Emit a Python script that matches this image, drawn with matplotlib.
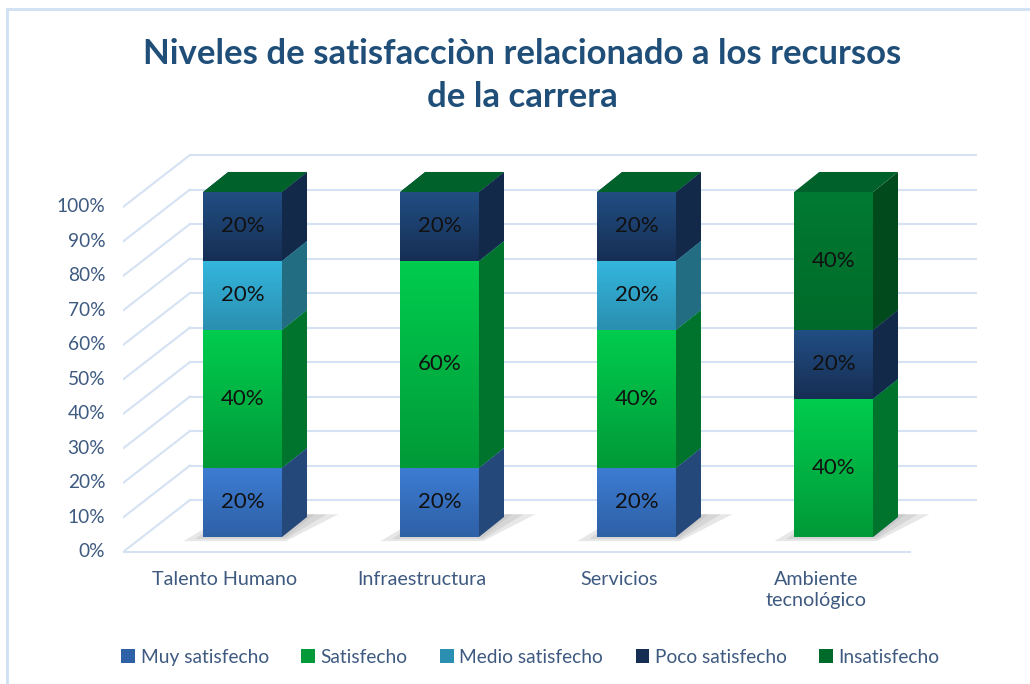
import numpy as np
import matplotlib.pyplot as plt
from matplotlib.patches import Polygon, Rectangle, Patch
from matplotlib.colors import LinearSegmentedColormap
from matplotlib.lines import Line2D

plt.rcParams['font.family'] = ['Lato', 'DejaVu Sans']

# data
categories = ["Talento Humano", "Infraestructura", "Servicios", "Ambiente\ntecnológico"]
series_names = ["Muy satisfecho", "Satisfecho", "Medio satisfecho", "Poco satisfecho", "Insatisfecho"]
muy_satisfecho = [20, 20, 20, 0]
satisfecho = [40, 60, 40, 40]
medio_satisfecho = [20, 0, 20, 0]
poco_satisfecho = [20, 20, 20, 20]
insatisfecho = [0, 0, 0, 40]
y_ticks = [0, 10, 20, 30, 40, 50, 60, 70, 80, 90, 100]

series_values = [muy_satisfecho, satisfecho, medio_satisfecho, poco_satisfecho, insatisfecho]

# (front top, front bottom, side, top face)
palette = [
    ("#3D7CD2", "#2E60A6", "#25487A", "#3468B0"),
    ("#00CC4E", "#009A38", "#00742C", "#00A83E"),
    ("#34B6DD", "#2A8FB0", "#226D82", "#2C9CC0"),
    ("#214E83", "#172E54", "#13294A", "#1B3D6A"),
    ("#007A33", "#006A2A", "#004A1B", "#00612A"),
]

TEXT_COLOR = "#3E5A80"
GRID_COLOR = "#D5E2F3"

# 3d look (in data units)
BAR_W = 0.2
BAR_DX, BAR_DY = 0.127, 5.8
FLOOR = -4.35
WALL_DX, WALL_DY = 0.34, 15.07
X_LEFT, X_RIGHT = -0.607, 3.388

fig = plt.figure(figsize=(10.30, 6.84), dpi=100)
ax = fig.add_axes([123 / 1030, 1 - 560 / 684, 854 / 1030, 420 / 684])
ax.axis('off')

# chart border (left + top)
fig.add_artist(Line2D([7 / 1030, 7 / 1030], [0, 1 - 9 / 684], transform=fig.transFigure,
                      color="#CFE0F3", lw=2))
fig.add_artist(Line2D([7 / 1030, 1], [1 - 9 / 684, 1 - 9 / 684], transform=fig.transFigure,
                      color="#CFE0F3", lw=2))

# walls / gridlines
for v in y_ticks:
    y0 = v + FLOOR
    ax.plot([X_LEFT, X_LEFT + WALL_DX], [y0, y0 + WALL_DY], color=GRID_COLOR, lw=1.5, zorder=1)
    ax.plot([X_LEFT + WALL_DX, X_RIGHT + WALL_DX], [y0 + WALL_DY, y0 + WALL_DY],
            color=GRID_COLOR, lw=1.5, zorder=1)
    ax.text(X_LEFT - 0.09, y0, f"{v}%", ha='right', va='center', fontsize=13.8, color=TEXT_COLOR)
ax.plot([X_LEFT, X_RIGHT], [FLOOR, FLOOR], color=GRID_COLOR, lw=1.5, zorder=1)

z = 5
for i, cat in enumerate(categories):
    x0, x1 = i - BAR_W, i + BAR_W
    # shadow on the floor
    for k, a in enumerate([0.08, 0.10, 0.12]):
        g = 0.06 * (2 - k)
        ax.add_patch(Polygon([(x0 - 0.1 + g, -1.2 + g * 10), (x1 + 0.02, -1.2 + g * 10),
                              (x1 + BAR_DX + 0.16 - g, BAR_DY + 0.8),
                              (x0 + BAR_DX, BAR_DY + 0.8)],
                             closed=True, fc="#404040", ec='none', alpha=a, zorder=3))
    bottom = 0
    for s, vals in enumerate(series_values):
        h = vals[i]
        top = bottom + h
        ftop, fbot, side, topc = palette[s]
        if h > 0:
            rect = Rectangle((x0, bottom), x1 - x0, h, fc=fbot, ec='none', zorder=z)
            ax.add_patch(rect)
            cmap = LinearSegmentedColormap.from_list("g", [fbot, ftop])
            im = ax.imshow(np.linspace(0, 1, 64).reshape(-1, 1), extent=[x0, x1, bottom, top],
                           origin='lower', cmap=cmap, aspect='auto', zorder=z, interpolation='bilinear')
            im.set_clip_path(rect)
            ax.add_patch(Polygon([(x1, bottom), (x1 + BAR_DX, bottom + BAR_DY),
                                  (x1 + BAR_DX, top + BAR_DY), (x1, top)],
                                 closed=True, fc=side, ec='none', zorder=z))
            ax.text(i, bottom + h / 2, f"{h}%", ha='center', va='center', fontsize=16,
                    color="#111111", zorder=z + 1)
        ax.add_patch(Polygon([(x0, top), (x1, top), (x1 + BAR_DX, top + BAR_DY),
                              (x0 + BAR_DX, top + BAR_DY)],
                             closed=True, fc=topc, ec='none', zorder=z))
        z += 1
        bottom = top
    ax.text(i - 0.09, -9.8, cat, ha='center', va='top', fontsize=14.2, color=TEXT_COLOR,
            linespacing=1.3)

ax.set_xlim(-0.607, 3.728)
ax.set_ylim(-6.67, 115.07)

fig.text(0.507, 0.889, "Niveles de satisfacciòn relacionado a los recursos\nde la carrera",
         ha='center', va='center', fontsize=25, fontweight='bold', color="#1F4E79",
         linespacing=1.42)

handles = [Patch(fc=palette[s][1], ec='none') for s in range(len(series_names))]
fig.legend(handles, series_names, loc='center', bbox_to_anchor=(0.515, 0.039), ncol=5,
           frameon=False, fontsize=13.8, handlelength=0.7, handleheight=0.7,
           handletextpad=0.3, columnspacing=1.7, labelcolor=TEXT_COLOR)

fig.savefig("out.png", dpi=100)
